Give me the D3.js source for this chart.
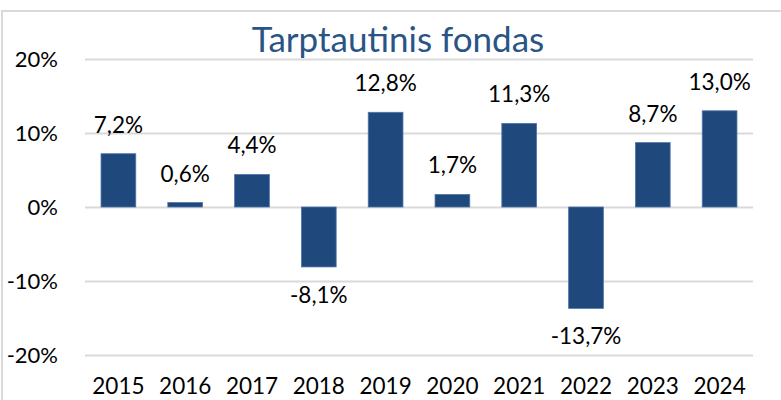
<!DOCTYPE html>
<html>
<head>
<meta charset="utf-8">
<script src="https://cdn.jsdelivr.net/npm/d3@7"></script>
<style>
  body { margin: 0; background: #fff; }
  text { font-family: Lato, "Open Sans", sans-serif; }
</style>
</head>
<body>
<div id="chart"></div>
<script>
const years = ["2015", "2016", "2017", "2018", "2019", "2020", "2021", "2022", "2023", "2024"];
const returns = [7.2, 0.6, 4.4, -8.1, 12.8, 1.7, 11.3, -13.7, 8.7, 13.0];
const yTicks = [-20, -10, 0, 10, 20];
const title = "Tarptautinis fondas";

const W = 781, H = 400;
const margin = { top: 59, right: 28, bottom: 45, left: 85 };
const width = W - margin.left - margin.right;
const height = H - margin.top - margin.bottom;

const svg = d3.select("#chart").append("svg")
    .attr("width", W)
    .attr("height", H);

// chart area border
svg.append("rect")
    .attr("x", 2).attr("y", 11)
    .attr("width", W + 10).attr("height", H + 10)
    .attr("fill", "none")
    .attr("stroke", "#d9d9d9")
    .attr("stroke-width", 2);

const g = svg.append("g").attr("transform", `translate(${margin.left},${margin.top})`);

const x = d3.scaleBand()
    .domain(years)
    .range([0, width])
    .paddingInner(0.48)
    .paddingOuter(0.24);

const y = d3.scaleLinear()
    .domain([-20, 20])
    .range([296, 0]);

// gridlines
g.append("g")
    .call(d3.axisLeft(y).tickValues(yTicks).tickSize(-width).tickFormat(""))
    .call(a => a.select(".domain").remove())
    .call(a => a.selectAll("line").attr("stroke", "#d9d9d9").attr("stroke-width", 2));

// y labels
g.append("g")
    .call(d3.axisLeft(y).tickValues(yTicks).tickSize(0).tickPadding(27).tickFormat(d => d + "%"))
    .call(a => a.select(".domain").remove())
    .call(a => a.selectAll("text").attr("font-size", 22).attr("fill", "#000")
        .attr("font-family", "Lato, 'Open Sans', sans-serif"));

// bars
g.selectAll(".bar")
    .data(returns)
    .enter().append("rect")
    .attr("x", (d, i) => x(years[i]))
    .attr("y", d => y(Math.max(0, d)))
    .attr("width", x.bandwidth())
    .attr("height", d => Math.abs(y(d) - y(0)))
    .attr("fill", "#1f497d")
    .attr("stroke", "#4f74a8")
    .attr("stroke-width", 0.8);

// value labels
g.selectAll(".lbl")
    .data(returns)
    .enter().append("text")
    .attr("x", (d, i) => x(years[i]) + x.bandwidth() / 2)
    .attr("y", d => d >= 0 ? y(d) - 21 : y(d) + 36)
    .attr("text-anchor", "middle")
    .attr("font-size", 22.5)
    .attr("fill", "#000")
    .text(d => d.toFixed(1).replace(".", ",") + "%");

// x labels
g.append("g")
    .attr("transform", `translate(0,${height})`)
    .call(d3.axisBottom(x).tickSize(0).tickPadding(0))
    .call(a => a.select(".domain").remove())
    .call(a => a.selectAll("text").attr("font-size", 22.5).attr("fill", "#000")
        .attr("font-family", "Lato, 'Open Sans', sans-serif")
        .attr("dy", null).attr("y", 39));

// title
svg.append("text")
    .attr("x", 398)
    .attr("y", 52)
    .attr("text-anchor", "middle")
    .attr("font-size", 35)
    .attr("fill", "#2b5486")
    .text(title);
</script>
</body>
</html>
